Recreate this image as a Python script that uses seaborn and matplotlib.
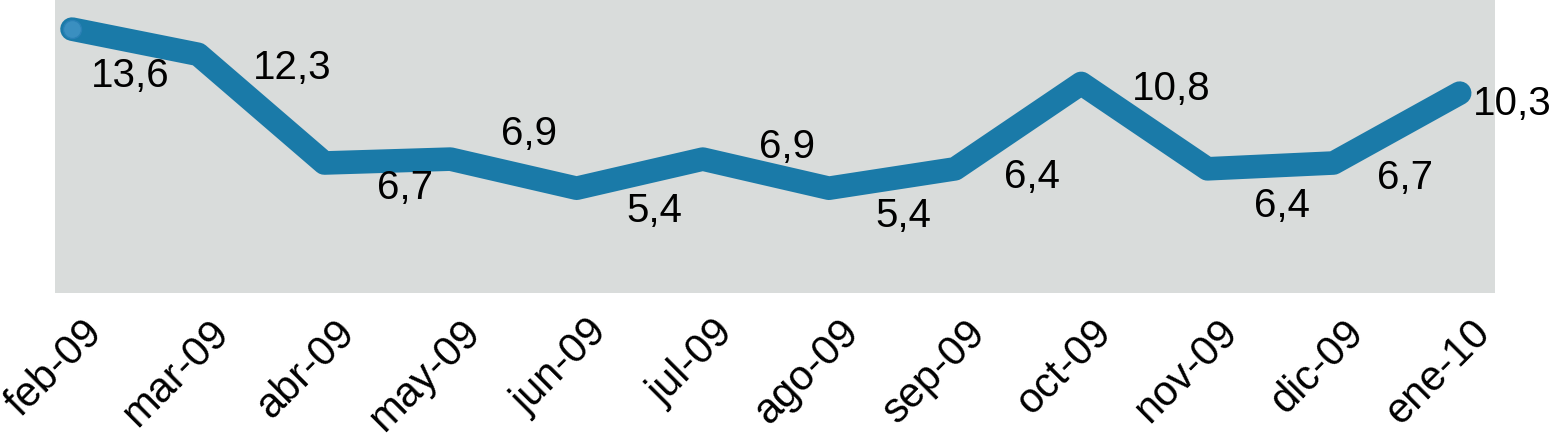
import matplotlib
matplotlib.use("Agg")
import matplotlib.pyplot as plt
import matplotlib.transforms as mtransforms
import seaborn as sns
import pandas as pd

months = ["feb-09", "mar-09", "abr-09", "may-09", "jun-09", "jul-09",
          "ago-09", "sep-09", "oct-09", "nov-09", "dic-09", "ene-10"]
values = [13.6, 12.3, 6.7, 6.9, 5.4, 6.9, 5.4, 6.4, 10.8, 6.4, 6.7, 10.3]
labels = ["13,6", "12,3", "6,7", "6,9", "5,4", "6,9", "5,4", "6,4", "10,8", "6,4", "6,7", "10,3"]

# label offsets in pixels (dx right, dy down) – layout only
offsets = [(58, 47), (94, 14), (81, 25), (79, -25), (78, 23), (84, -12),
           (74, 28), (77, 8), (90, 6), (75, 37), (71, 15), (53, 11)]

sns.set_theme(style="white")
plt.rcParams['font.family'] = ['Liberation Sans', 'DejaVu Sans']

df = pd.DataFrame({"x": range(len(months)), "v": values})

fig = plt.figure(figsize=(15.56, 4.48), dpi=100)
ax = fig.add_axes([55/1556, (448-293)/448, 1440/1556, 293/448])
ax.set_facecolor("#d9dcdb")

line_color = "#1a7aa8"
sns.lineplot(data=df, x="x", y="v", ax=ax, color=line_color, linewidth=17,
             solid_capstyle="round", solid_joinstyle="round")
ax.plot([0], [values[0]], marker="o", markersize=13, color="#3a8fc0",
        markeredgecolor="#2a80b5", zorder=5)

for i, (v, lab) in enumerate(zip(values, labels)):
    dx, dy = offsets[i]
    ax.annotate(lab, (i, v), xytext=(dx, -dy), textcoords="offset pixels",
                ha="center", va="center", fontsize=29, color="black")

ax.set_xlim(-0.135, 11.28)
ax.set_ylim(0, 15.1)
ax.set_yticks([])
ax.set_xticks(range(len(months)))
ax.set_xticklabels(months, rotation=45, ha="right", va="top",
                   rotation_mode="anchor", fontsize=30, color="black")
ax.tick_params(axis="x", length=0, pad=14)
for t in ax.get_xticklabels():
    t.set_transform(t.get_transform() + mtransforms.ScaledTranslation(10/100, 0, fig.dpi_scale_trans))
ax.set_xlabel("")
ax.set_ylabel("")
for s in ax.spines.values():
    s.set_visible(False)

fig.savefig("out.png", dpi=100, facecolor="white")
